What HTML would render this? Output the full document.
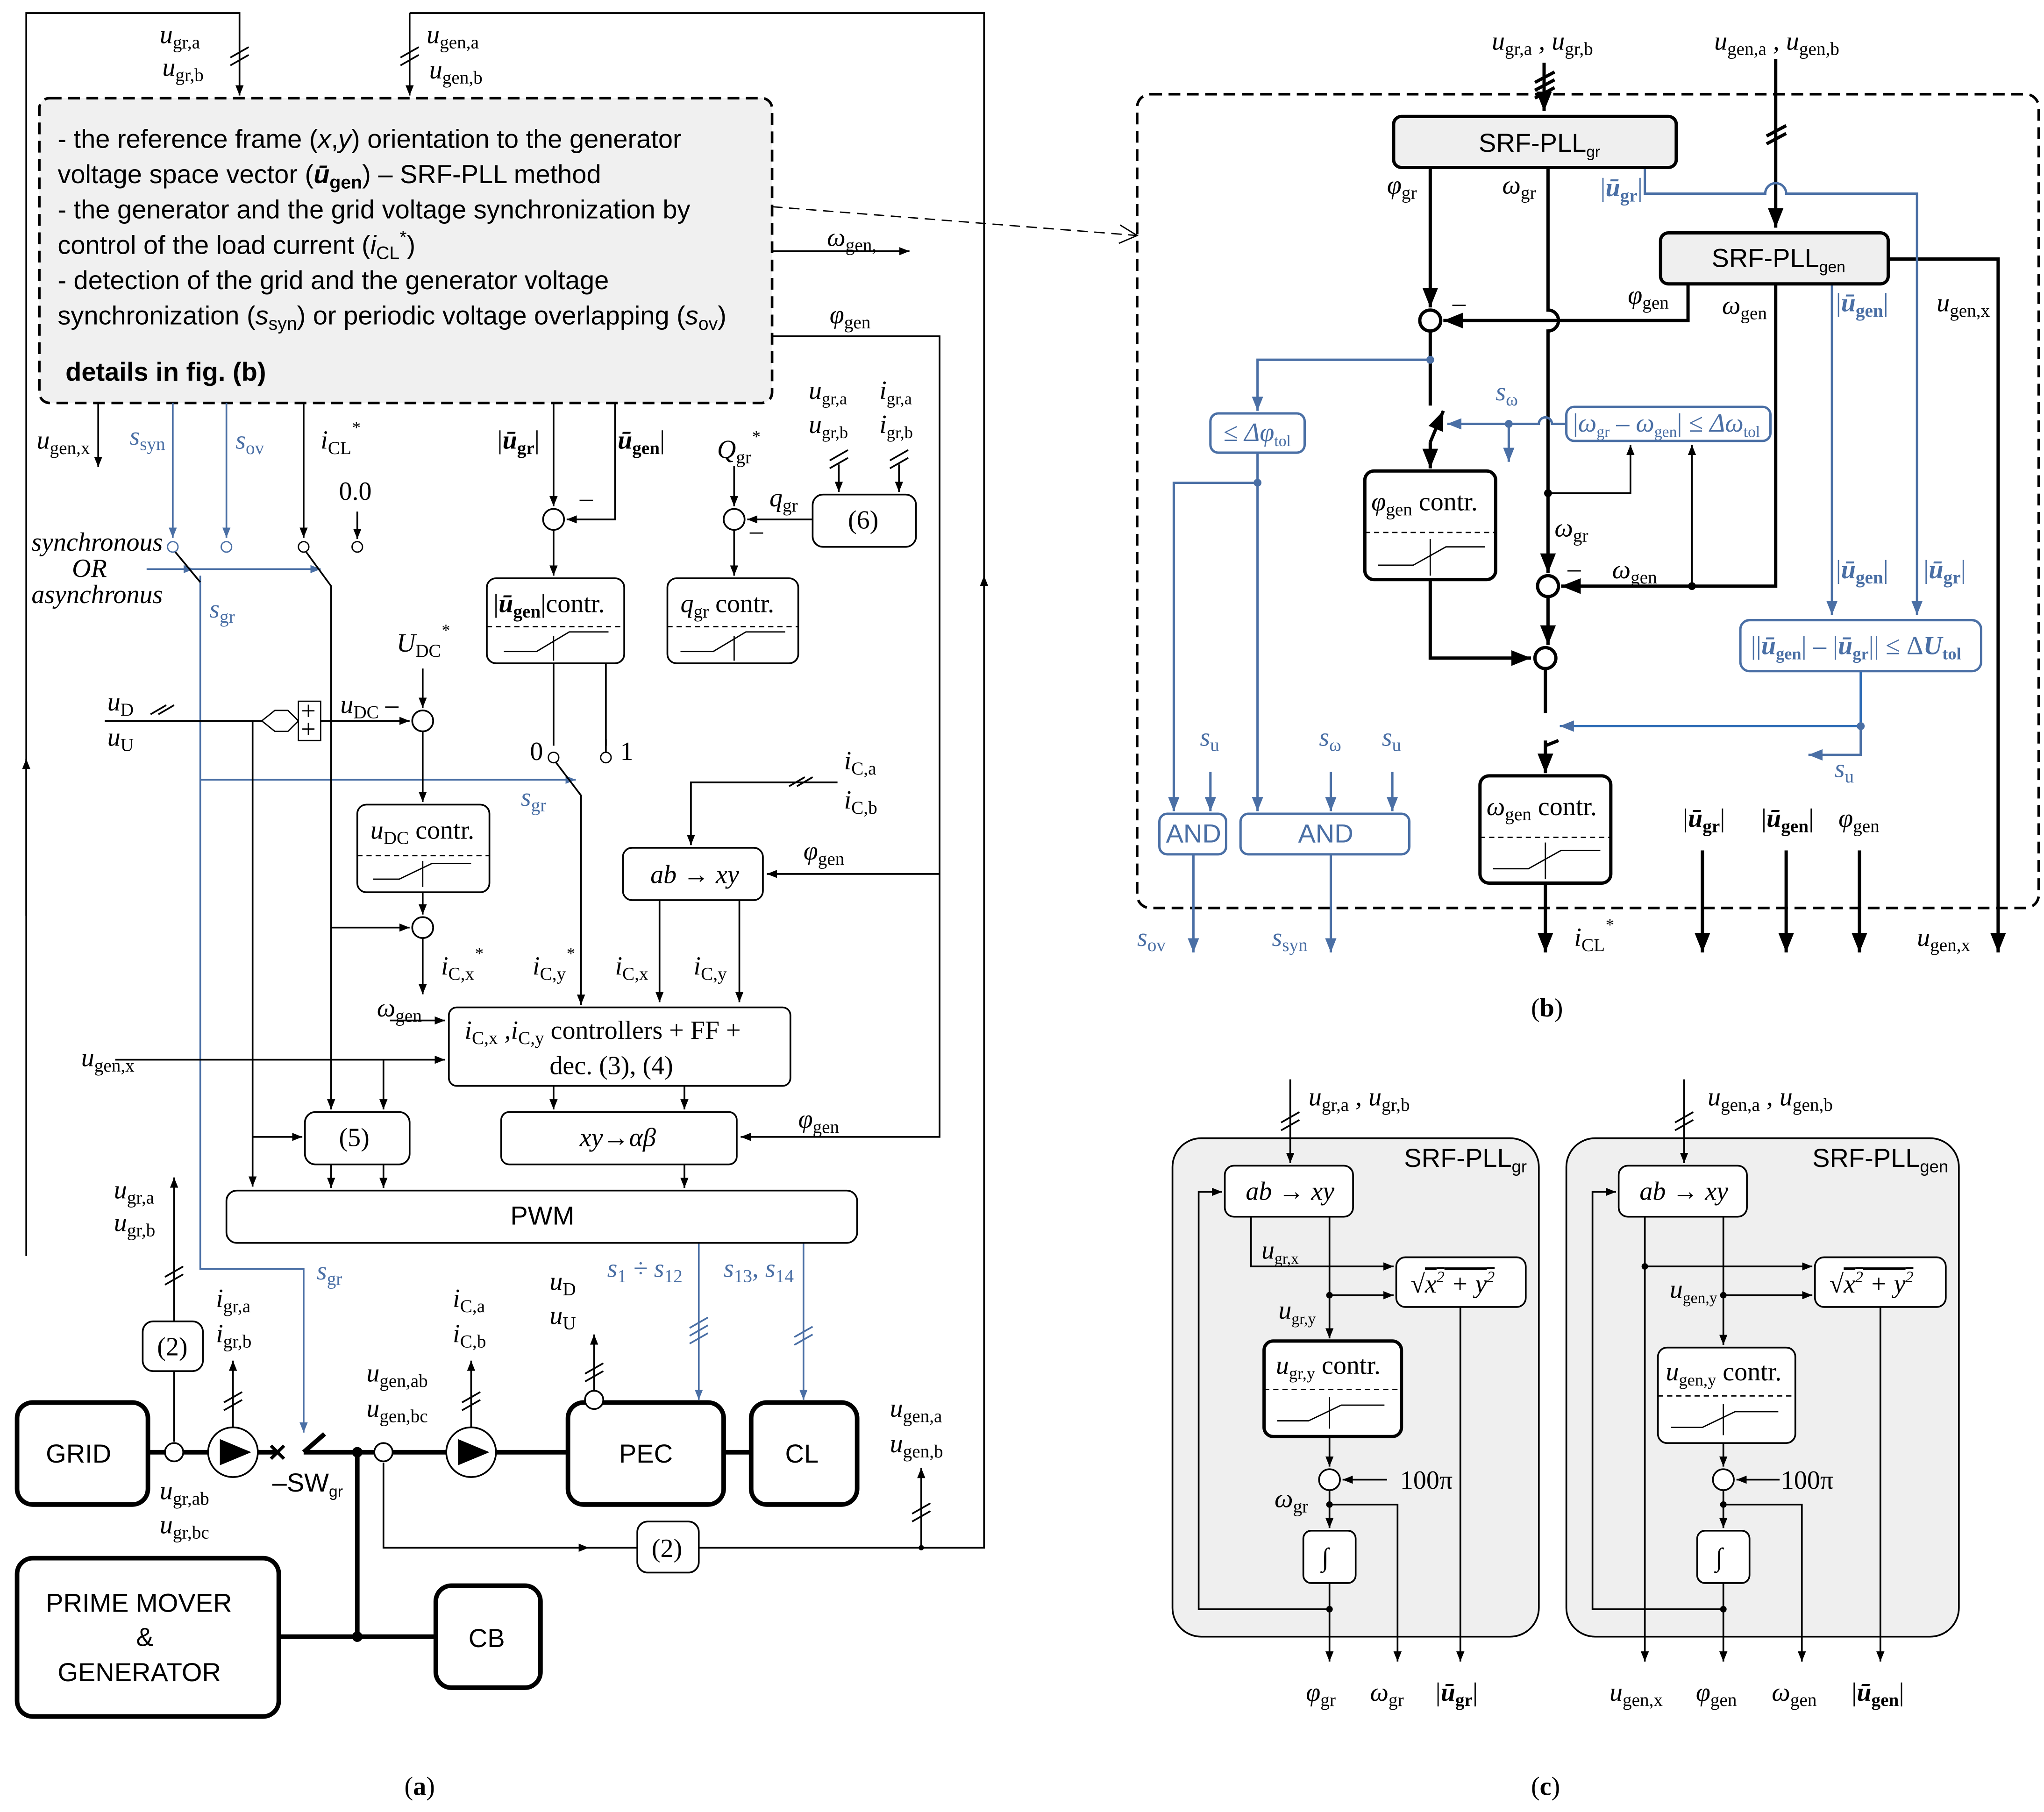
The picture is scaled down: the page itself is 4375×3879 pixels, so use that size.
<!DOCTYPE html>
<html><head><meta charset="utf-8"><style>
html,body{margin:0;padding:0;background:#fff}
svg{display:block}
text{font-family:"Liberation Serif",serif;font-size:20px;fill:#000}
.s{font-family:"Liberation Sans",sans-serif}
.i{font-style:italic}
tspan[dy="4"]{font-style:normal}
</style></head><body>
<svg width="4375" height="3879" viewBox="0 0 1562 1385" xmlns="http://www.w3.org/2000/svg">
<defs>
<marker id="a" viewBox="0 0 10 10" refX="10" refY="5" markerWidth="6" markerHeight="6" orient="auto"><path d="M0,1L10,5L0,9z" fill="#000"/></marker>
<marker id="ab" viewBox="0 0 10 10" refX="10" refY="5" markerWidth="6" markerHeight="6" orient="auto"><path d="M0,1L10,5L0,9z" fill="#4a6fa5"/></marker>
</defs>
<rect width="1562" height="1385" fill="#fff"/>

<!-- ============ PANEL (a) ============ -->
<g fill="none" stroke="#000" stroke-width="1.3">
<path d="M20,960V10H183V73" marker-end="url(#a)"/>
<path d="M313,10H752V1183H534"/>
<path d="M313,10V73" marker-end="url(#a)"/>
<path d="M20,700V580" marker-end="url(#a)"/>
<path d="M752,520V440" marker-end="url(#a)"/>
<path d="M176,44l14,-8M176,50l14,-8M306,44l14,-8M306,50l14,-8"/>
</g>
<rect x="30" y="75" width="560" height="233" rx="8" fill="#f0f0f0" stroke="#000" stroke-width="2" stroke-dasharray="9,5"/>
<g class="s" font-size="20">
<text x="44" y="113" class="s">- the reference frame (<tspan class="i">x</tspan>,<tspan class="i">y</tspan>) orientation to the generator</text>
<text x="44" y="140" class="s">voltage space vector (<tspan font-weight="bold" class="i">ū</tspan><tspan font-weight="bold" font-size="14" dy="4">gen</tspan><tspan dy="-4">) – SRF-PLL method</tspan></text>
<text x="44" y="167" class="s">- the generator and the grid voltage synchronization by</text>
<text x="44" y="194" class="s">control of the load current (<tspan class="i">i</tspan><tspan font-size="14" dy="4">CL</tspan><tspan font-size="14" dy="-12">*</tspan><tspan dy="8">)</tspan></text>
<text x="44" y="221" class="s">- detection of the grid and the generator voltage</text>
<text x="44" y="248" class="s">synchronization (<tspan class="i">s</tspan><tspan font-size="14" dy="4">syn</tspan><tspan dy="-4">) or periodic voltage overlapping (</tspan><tspan class="i">s</tspan><tspan font-size="14" dy="4">ov</tspan><tspan dy="-4">)</tspan></text>
<text x="50" y="291" class="s" font-weight="bold">details in fig. (b)</text>
</g>
<text x="122" y="33" class="i">u<tspan font-size="14" dy="4">gr,a</tspan></text>
<text x="124" y="58" class="i">u<tspan font-size="14" dy="4">gr,b</tspan></text>
<text x="326" y="33" class="i">u<tspan font-size="14" dy="4">gen,a</tspan></text>
<text x="328" y="60" class="i">u<tspan font-size="14" dy="4">gen,b</tspan></text>
<path d="M590,158L869,180" stroke="#000" stroke-dasharray="8,5" fill="none"/>
<path d="M856,172l13,8l-14,6" stroke="#000" fill="none"/>
<g fill="none" stroke="#000" stroke-width="1.3">
<path d="M590,192H695" marker-end="url(#a)"/>
<path d="M590,257H718V869H566" marker-end="url(#a)"/>
<path d="M718,668H586" marker-end="url(#a)"/>
<path d="M75,308V357" marker-end="url(#a)"/>
<path d="M232,308V411" marker-end="url(#a)"/>
<path d="M273,391V412" marker-end="url(#a)"/>
<path d="M423,308V387" marker-end="url(#a)"/>
<path d="M470,308V397H433" marker-end="url(#a)"/>
<path d="M423,405V440" marker-end="url(#a)"/>
<path d="M561,356V387" marker-end="url(#a)"/>
<path d="M621,397H571" marker-end="url(#a)"/>
<path d="M561,405V440" marker-end="url(#a)"/>
<path d="M641,355V376" marker-end="url(#a)"/>
<path d="M687,355V376" marker-end="url(#a)"/>
<path d="M634,352l14,-8M634,358l14,-8M680,352l14,-8M680,358l14,-8"/>
</g>
<g fill="none" stroke="#4a6fa5" stroke-width="1.3">
<path d="M132,308V411" marker-end="url(#ab)"/>
<path d="M173,308V411" marker-end="url(#ab)"/>
<path d="M112,435H245" marker-end="url(#ab)"/>
<path d="M140,435H148" marker-end="url(#ab)"/>
<path d="M153,440V970H232V1095" marker-end="url(#ab)"/>
<path d="M153,596H440" marker-end="url(#ab)"/>
<path d="M534,950V1070" marker-end="url(#ab)"/>
<path d="M614,950V1070" marker-end="url(#ab)"/>
<path d="M527,1015l14,-8M527,1021l14,-8M527,1027l14,-8M607,1022l14,-8M607,1028l14,-8"/>
</g>
<g fill="#fff" stroke="#4a6fa5"><circle cx="132" cy="418" r="4"/><circle cx="173" cy="418" r="4"/></g>
<g fill="#fff" stroke="#000"><circle cx="232" cy="418" r="4"/><circle cx="273" cy="418" r="4"/><circle cx="423" cy="579" r="4"/><circle cx="463" cy="579" r="4"/></g>
<path d="M134,422L153,445M234,422L253,448V845M425,583L444,608V768M463,565V575" stroke="#000" fill="none" stroke-width="1.3"/>
<path d="M253,448V848" stroke="#000" fill="none" stroke-width="1.3" marker-end="url(#a)"/>
<path d="M444,608V768" stroke="#000" fill="none" stroke-width="1.3" marker-end="url(#a)"/>
<text x="99" y="340" class="i" style="fill:#4a6fa5">s<tspan font-size="14" dy="4">syn</tspan></text>
<text x="180" y="343" class="i" style="fill:#4a6fa5">s<tspan font-size="14" dy="4">ov</tspan></text>
<text x="28" y="343" class="i">u<tspan font-size="14" dy="4">gen,x</tspan></text>
<text x="245" y="343" class="i">i<tspan font-size="14" dy="4">CL</tspan><tspan font-size="13" dy="-16">*</tspan></text>
<text x="259" y="382">0.0</text>
<text x="24" y="421" class="i" font-size="15">synchronous</text>
<text x="55" y="441" class="i" font-size="15">OR</text>
<text x="24" y="461" class="i" font-size="15">asynchronus</text>
<text x="160" y="472" class="i" style="fill:#4a6fa5">s<tspan font-size="14" dy="4">gr</tspan></text>
<text x="398" y="616" class="i" style="fill:#4a6fa5">s<tspan font-size="14" dy="4">gr</tspan></text>
<text x="380" y="343">|<tspan font-weight="bold" class="i">ū</tspan><tspan font-weight="bold" font-size="14" dy="4">gr</tspan><tspan dy="-4">|</tspan></text>
<text x="468" y="343">|<tspan font-weight="bold" class="i">ū</tspan><tspan font-weight="bold" font-size="14" dy="4">gen</tspan><tspan dy="-4">|</tspan></text>
<text x="548" y="350" class="i">Q<tspan font-size="14" dy="4">gr</tspan><tspan font-size="13" dy="-16">*</tspan></text>
<text x="588" y="387" class="i">q<tspan font-size="14" dy="4">gr</tspan></text>
<text x="618" y="305" class="i" font-size="18">u<tspan font-size="13" dy="4">gr,a</tspan></text>
<text x="618" y="331" class="i" font-size="18">u<tspan font-size="13" dy="4">gr,b</tspan></text>
<text x="672" y="305" class="i" font-size="18">i<tspan font-size="13" dy="4">gr,a</tspan></text>
<text x="672" y="331" class="i" font-size="18">i<tspan font-size="13" dy="4">gr,b</tspan></text>
<text x="632" y="188" class="i">ω<tspan font-size="14" dy="4">gen,</tspan></text>
<text x="634" y="247" class="i">φ<tspan font-size="14" dy="4">gen</tspan></text>
<text x="443" y="387">–</text><text x="573" y="412">–</text>
<g fill="#fff" stroke="#000" stroke-width="1.3">
<circle cx="423" cy="397" r="8"/><circle cx="561" cy="397" r="8"/><circle cx="323" cy="551" r="8"/><circle cx="323" cy="709" r="8"/>
<rect x="621" y="378" width="79" height="40" rx="8"/>
<rect x="372" y="442" width="105" height="65" rx="7"/>
<rect x="510" y="442" width="100" height="65" rx="7"/>
<rect x="273" y="615" width="101" height="67" rx="7"/>
<rect x="476" y="648" width="107" height="40" rx="7"/>
<rect x="343" y="770" width="261" height="60" rx="6"/>
<rect x="233" y="850" width="80" height="40" rx="8"/>
<rect x="383" y="850" width="180" height="40" rx="6"/>
<rect x="173" y="910" width="482" height="40" rx="8"/>
</g>
<g stroke="#000" fill="none" stroke-dasharray="4,3"><path d="M372,479H477M510,479H610M273,654H374"/></g>
<g stroke="#000" fill="none"><path d="M385,498H410L435,483H465M423,505V486M520,498H545L570,483H600M561,505V486M285,672H305L330,660H360M323,678V658"/></g>
<text x="377" y="468">|<tspan font-weight="bold" class="i">ū</tspan><tspan font-weight="bold" font-size="14" dy="4">gen</tspan><tspan dy="-4">|contr.</tspan></text>
<text x="520" y="468" class="i">q<tspan font-size="14" dy="4">gr</tspan><tspan dy="-4" font-style="normal"> contr.</tspan></text>
<text x="283" y="641" class="i">u<tspan font-size="14" dy="4">DC</tspan><tspan dy="-4" font-style="normal"> contr.</tspan></text>
<text x="648" y="404">(6)</text>
<text x="497" y="675" class="i">ab → xy</text>
<text x="355" y="794" class="i">i<tspan font-size="14" dy="4">C,x</tspan><tspan dy="-4"> ,i</tspan><tspan font-size="14" dy="4">C,y</tspan><tspan dy="-4" font-style="normal"> controllers + FF +</tspan></text>
<text x="420" y="821">dec. (3), (4)</text>
<text x="259" y="876">(5)</text>
<text x="443" y="876" class="i">xy→αβ</text>
<text x="390" y="936" class="s" font-size="18">PWM</text>
<g fill="none" stroke="#000" stroke-width="1.3">
<path d="M423,507V570M463,507V570"/>
<path d="M323,511V541" marker-end="url(#a)"/>
<path d="M323,559V613" marker-end="url(#a)"/>
<path d="M323,682V699" marker-end="url(#a)"/>
<path d="M323,717V760" marker-end="url(#a)"/>
<path d="M253,709H313" marker-end="url(#a)"/>
<path d="M80,551H200"/>
<path d="M245,551H313" marker-end="url(#a)"/>
<path d="M193,551V907" marker-end="url(#a)"/>
<path d="M193,869H231" marker-end="url(#a)"/>
<path d="M293,810V848" marker-end="url(#a)"/>
<path d="M88,810H340" marker-end="url(#a)"/>
<path d="M640,598H528V646" marker-end="url(#a)"/>
<path d="M603,601l12,-7M609,601l12,-7"/>
<path d="M504,688V766" marker-end="url(#a)"/>
<path d="M565,688V766" marker-end="url(#a)"/>
<path d="M298,780H340" marker-end="url(#a)"/>
<path d="M423,830V848" marker-end="url(#a)"/>
<path d="M523,830V848" marker-end="url(#a)"/>
<path d="M253,890V908" marker-end="url(#a)"/>
<path d="M293,890V908" marker-end="url(#a)"/>
<path d="M523,890V908" marker-end="url(#a)"/>
<path d="M115,546l12,-7M121,546l12,-7"/>
</g>
<path d="M200,551l10,-8h10l8,8l-8,8h-10z" fill="#fff" stroke="#000"/>
<rect x="228" y="536" width="17" height="30" fill="#fff" stroke="#000"/>
<text x="230" y="550" font-size="14">+</text><text x="230" y="564" font-size="14">+</text>
<text x="82" y="543" class="i">u<tspan font-size="14" dy="4">D</tspan></text>
<text x="82" y="570" class="i">u<tspan font-size="14" dy="4">U</tspan></text>
<text x="260" y="545" class="i">u<tspan font-size="14" dy="4">DC</tspan><tspan dy="-4" font-style="normal"> –</tspan></text>
<text x="303" y="498" class="i">U<tspan font-size="14" dy="4">DC</tspan><tspan font-size="13" dy="-16">*</tspan></text>
<text x="405" y="581" font-size="16">0</text><text x="474" y="581" font-size="16">1</text>
<text x="645" y="588" class="i">i<tspan font-size="14" dy="4">C,a</tspan></text>
<text x="645" y="618" class="i">i<tspan font-size="14" dy="4">C,b</tspan></text>
<text x="614" y="657" class="i">φ<tspan font-size="14" dy="4">gen</tspan></text>
<text x="337" y="745" class="i">i<tspan font-size="14" dy="4">C,x</tspan><tspan font-size="13" dy="-16">*</tspan></text>
<text x="407" y="745" class="i">i<tspan font-size="14" dy="4">C,y</tspan><tspan font-size="13" dy="-16">*</tspan></text>
<text x="470" y="745" class="i">i<tspan font-size="14" dy="4">C,x</tspan></text>
<text x="530" y="745" class="i">i<tspan font-size="14" dy="4">C,y</tspan></text>
<text x="288" y="777" class="i">ω<tspan font-size="14" dy="4">gen</tspan></text>
<text x="62" y="815" class="i">u<tspan font-size="14" dy="4">gen,x</tspan></text>
<text x="610" y="862" class="i">φ<tspan font-size="14" dy="4">gen</tspan></text>
<text x="87" y="916" class="i">u<tspan font-size="14" dy="4">gr,a</tspan></text>
<text x="87" y="941" class="i">u<tspan font-size="14" dy="4">gr,b</tspan></text>
<text x="242" y="978" class="i" style="fill:#4a6fa5">s<tspan font-size="14" dy="4">gr</tspan></text>
<text x="464" y="976" class="i" style="fill:#4a6fa5">s<tspan font-size="14" dy="4">1</tspan><tspan dy="-4"> ÷ s</tspan><tspan font-size="14" dy="4">12</tspan></text>
<text x="553" y="976" class="i" style="fill:#4a6fa5">s<tspan font-size="14" dy="4">13</tspan><tspan dy="-4">, s</tspan><tspan font-size="14" dy="4">14</tspan></text>
<text x="420" y="986" class="i">u<tspan font-size="14" dy="4">D</tspan></text>
<text x="420" y="1012" class="i">u<tspan font-size="14" dy="4">U</tspan></text>
<text x="165" y="999" class="i">i<tspan font-size="14" dy="4">gr,a</tspan></text>
<text x="165" y="1026" class="i">i<tspan font-size="14" dy="4">gr,b</tspan></text>
<text x="346" y="999" class="i">i<tspan font-size="14" dy="4">C,a</tspan></text>
<text x="346" y="1026" class="i">i<tspan font-size="14" dy="4">C,b</tspan></text>
<text x="280" y="1056" class="i">u<tspan font-size="14" dy="4">gen,ab</tspan></text>
<text x="280" y="1083" class="i">u<tspan font-size="14" dy="4">gen,bc</tspan></text>
<text x="680" y="1083" class="i">u<tspan font-size="14" dy="4">gen,a</tspan></text>
<text x="680" y="1110" class="i">u<tspan font-size="14" dy="4">gen,b</tspan></text>
<text x="122" y="1146" class="i">u<tspan font-size="14" dy="4">gr,ab</tspan></text>
<text x="122" y="1172" class="i">u<tspan font-size="14" dy="4">gr,bc</tspan></text>
<text x="208" y="1140" class="s" font-size="16">–SW<tspan font-size="12" dy="4">gr</tspan></text>
<!-- power section -->
<g fill="none" stroke="#000" stroke-width="1.3">
<path d="M133,960V1010M133,1048V1102"/>
<path d="M133,1002V900" marker-end="url(#a)"/>
<path d="M126,976l14,-8M126,982l14,-8"/>
<path d="M178,1091V1040" marker-end="url(#a)"/>
<path d="M360,1091V1040" marker-end="url(#a)"/>
<path d="M454,1063V1020" marker-end="url(#a)"/>
<path d="M171,1072l14,-8M171,1078l14,-8M353,1072l14,-8M353,1078l14,-8M447,1050l14,-8M447,1056l14,-8"/>
<path d="M293,1118V1183H450" marker-end="url(#a)"/>
<path d="M450,1183H487"/>
<path d="M704,1183V1122" marker-end="url(#a)"/>
<path d="M697,1157l14,-8M697,1163l14,-8"/>
</g>
<g fill="none" stroke="#000" stroke-width="3.5">
<path d="M113,1110H212M232,1110H434M553,1110H574M273,1110V1251M213,1251H333"/>
<path d="M232,1110L248,1096"/>
<path d="M207,1105l10,10M217,1105l-10,10" stroke-width="2.5"/>
<rect x="13" y="1072" width="100" height="78" rx="12"/>
<rect x="13" y="1191" width="200" height="121" rx="12"/>
<rect x="333" y="1212" width="80" height="78" rx="12"/>
<rect x="434" y="1072" width="119" height="78" rx="12"/>
<rect x="574" y="1072" width="81" height="78" rx="12"/>
</g>
<g fill="#fff" stroke="#000" stroke-width="1.3">
<circle cx="133" cy="1110" r="7"/><circle cx="293" cy="1110" r="7"/><circle cx="454" cy="1070" r="7"/>
<circle cx="178" cy="1110" r="19"/><circle cx="360" cy="1110" r="19"/>
<rect x="109" y="1010" width="46" height="38" rx="8"/><rect x="487" y="1163" width="47" height="39" rx="8"/>
</g>
<path d="M168,1100L192,1110L168,1120zM350,1100L374,1110L350,1120z" fill="#000"/>
<circle cx="273" cy="1110" r="4"/><circle cx="273" cy="1251" r="4"/><circle cx="704" cy="1183" r="2"/>
<text x="120" y="1036">(2)</text><text x="498" y="1190">(2)</text>
<text x="35" y="1118" class="s" font-size="21">GRID</text>
<text x="35" y="1232" class="s" font-size="21">PRIME MOVER</text>
<text x="104" y="1258" class="s" font-size="21">&amp;</text>
<text x="44" y="1285" class="s" font-size="21">GENERATOR</text>
<text x="358" y="1259" class="s" font-size="21">CB</text>
<text x="473" y="1118" class="s" font-size="21">PEC</text>
<text x="600" y="1118" class="s" font-size="21">CL</text>
<text x="309" y="1372" font-size="26">(<tspan font-weight="bold">a</tspan>)</text>

<!-- ============ PANEL (b) ============ -->
<rect x="869" y="72" width="689" height="622" rx="10" fill="none" stroke="#000" stroke-width="2" stroke-dasharray="9,5"/>
<text x="1140" y="38" class="i">u<tspan font-size="14" dy="4">gr,a</tspan><tspan dy="-4"> , u</tspan><tspan font-size="14" dy="4">gr,b</tspan></text>
<text x="1310" y="38" class="i">u<tspan font-size="14" dy="4">gen,a</tspan><tspan dy="-4"> , u</tspan><tspan font-size="14" dy="4">gen,b</tspan></text>
<g fill="none" stroke="#000" stroke-width="2.5">
<path d="M1180,48V85" marker-end="url(#a)"/>
<path d="M1357,45V174" marker-end="url(#a)"/>
<path d="M1173,63l15,-8M1173,69l15,-8M1173,75l15,-8M1350,104l15,-8M1350,110l15,-8"/>
<path d="M1093,128V235" marker-end="url(#a)"/>
<path d="M1183,128V237a8,8 0 0,1 0,16V438" marker-end="url(#a)"/>
<path d="M1290,217V245H1103" marker-end="url(#a)"/>
<path d="M1357,217V448H1193" marker-end="url(#a)"/>
<path d="M1443,198H1527V728" marker-end="url(#a)"/>
<path d="M1093,253V310"/>
<path d="M1093,338L1103,314" marker-end="url(#a)"/>
<path d="M1093,338V358" marker-end="url(#a)"/>
<path d="M1093,443V503H1170" marker-end="url(#a)"/>
<path d="M1183,456V493" marker-end="url(#a)"/>
<path d="M1181,511V545"/>
<path d="M1181,570L1191,566" />
<path d="M1181,566V591" marker-end="url(#a)"/>
<path d="M1181,675V728" marker-end="url(#a)"/>
<path d="M1301,650V728" marker-end="url(#a)"/>
<path d="M1365,650V728" marker-end="url(#a)"/>
<path d="M1421,650V728" marker-end="url(#a)"/>
</g>
<g fill="none" stroke="#000" stroke-width="1.3">
<path d="M1183,377H1246V340" marker-end="url(#a)"/>
<path d="M1293,448V340" marker-end="url(#a)"/>
</g>
<circle cx="1183" cy="377" r="3"/><circle cx="1293" cy="448" r="3"/>
<g fill="none" stroke="#4a6fa5" stroke-width="1.8">
<path d="M1257,128V148H1349a8,8 0 0,1 16,0H1465V470" marker-end="url(#ab)"/>
<path d="M1400,217V470" marker-end="url(#ab)"/>
<path d="M1093,275H961V314" marker-end="url(#ab)"/>
<path d="M1197,324H1186a5,5 0 0,0 -10,0H1106" marker-end="url(#ab)"/>
<path d="M1153,324V353" marker-end="url(#ab)"/>
<path d="M1422,513V555H1192" marker-end="url(#ab)" stroke="#2d6bb5"/>
<path d="M1422,555V577H1382" marker-end="url(#ab)"/>
<path d="M961,346V620" marker-end="url(#ab)"/>
<path d="M961,369H897V620" marker-end="url(#ab)"/>
<path d="M925,590V620" marker-end="url(#ab)"/>
<path d="M1017,590V620" marker-end="url(#ab)"/>
<path d="M1064,590V620" marker-end="url(#ab)"/>
<path d="M912,653V728" marker-end="url(#ab)"/>
<path d="M1017,653V728" marker-end="url(#ab)"/>
</g>
<g fill="#4a6fa5"><circle cx="1093" cy="275" r="3"/><circle cx="961" cy="369" r="3"/><circle cx="1153" cy="324" r="3"/><circle cx="1422" cy="555" r="3"/></g>
<g fill="#fff" stroke="#4a6fa5" stroke-width="1.8">
<rect x="925" y="316" width="72" height="30" rx="6"/>
<rect x="1197" y="311" width="156" height="26" rx="6"/>
<rect x="1330" y="474" width="184" height="39" rx="7"/>
<rect x="886" y="622" width="51" height="31" rx="6"/>
<rect x="948" y="622" width="129" height="31" rx="6"/>
</g>
<g fill="#efefef" stroke="#000" stroke-width="2.5">
<rect x="1065" y="89" width="216" height="39" rx="6"/>
<rect x="1269" y="178" width="174" height="39" rx="6"/>
</g>
<g fill="#fff" stroke="#000" stroke-width="2.5">
<circle cx="1093" cy="245" r="8"/><circle cx="1183" cy="448" r="8"/><circle cx="1181" cy="503" r="8"/>
<rect x="1043" y="360" width="100" height="83" rx="7"/>
<rect x="1131" y="593" width="100" height="82" rx="7"/>
</g>
<g stroke="#000" fill="none"><path d="M1043,407H1143M1131,640H1231" stroke-dasharray="4,3"/>
<path d="M1053,432H1080L1105,418H1135M1093,440V412M1141,664H1168L1193,650H1223M1181,672V644"/></g>
<text x="1130" y="116" class="s" font-size="18">SRF-PLL<tspan font-size="12" dy="4">gr</tspan></text>
<text x="1308" y="204" class="s" font-size="18">SRF-PLL<tspan font-size="12" dy="4">gen</tspan></text>
<text x="1048" y="390" class="i">φ<tspan font-size="14" dy="4">gen</tspan><tspan dy="-4" font-style="normal"> contr.</tspan></text>
<text x="1136" y="623" class="i">ω<tspan font-size="14" dy="4">gen</tspan><tspan dy="-4" font-style="normal"> contr.</tspan></text>
<text x="1060" y="148" class="i">φ<tspan font-size="14" dy="4">gr</tspan></text>
<text x="1148" y="148" class="i">ω<tspan font-size="14" dy="4">gr</tspan></text>
<text x="1223" y="150" style="fill:#4a6fa5">|<tspan font-weight="bold" class="i">ū</tspan><tspan font-weight="bold" font-size="14" dy="4">gr</tspan><tspan dy="-4">|</tspan></text>
<text x="1244" y="232" class="i">φ<tspan font-size="14" dy="4">gen</tspan></text>
<text x="1316" y="240" class="i">ω<tspan font-size="14" dy="4">gen</tspan></text>
<text x="1403" y="238" style="fill:#4a6fa5">|<tspan font-weight="bold" class="i">ū</tspan><tspan font-weight="bold" font-size="14" dy="4">gen</tspan><tspan dy="-4">|</tspan></text>
<text x="1480" y="238" class="i">u<tspan font-size="14" dy="4">gen,x</tspan></text>
<text x="1110" y="238">–</text><text x="1198" y="441">–</text>
<text x="1143" y="306" class="i" style="fill:#4a6fa5">s<tspan font-size="14" dy="4">ω</tspan></text>
<text x="935" y="337" style="fill:#4a6fa5" font-size="17">≤ <tspan class="i">Δφ</tspan><tspan font-size="12" dy="4">tol</tspan></text>
<text x="1202" y="330" style="fill:#4a6fa5" font-size="17">|<tspan class="i">ω</tspan><tspan font-size="12" dy="4">gr</tspan><tspan dy="-4"> – </tspan><tspan class="i">ω</tspan><tspan font-size="12" dy="4">gen</tspan><tspan dy="-4">| ≤ </tspan><tspan class="i">Δω</tspan><tspan font-size="12" dy="4">tol</tspan></text>
<text x="1188" y="410" class="i">ω<tspan font-size="14" dy="4">gr</tspan></text>
<text x="1232" y="442" class="i">ω<tspan font-size="14" dy="4">gen</tspan></text>
<text x="1403" y="442" style="fill:#4a6fa5">|<tspan font-weight="bold" class="i">ū</tspan><tspan font-weight="bold" font-size="14" dy="4">gen</tspan><tspan dy="-4">|</tspan></text>
<text x="1470" y="442" style="fill:#4a6fa5">|<tspan font-weight="bold" class="i">ū</tspan><tspan font-weight="bold" font-size="14" dy="4">gr</tspan><tspan dy="-4">|</tspan></text>
<text x="1338" y="500" style="fill:#4a6fa5" font-size="18">||<tspan font-weight="bold" class="i">ū</tspan><tspan font-weight="bold" font-size="13" dy="4">gen</tspan><tspan dy="-4">| – |</tspan><tspan font-weight="bold" class="i">ū</tspan><tspan font-weight="bold" font-size="13" dy="4">gr</tspan><tspan dy="-4">|| ≤ Δ</tspan><tspan class="i" font-weight="bold">U</tspan><tspan font-weight="bold" font-size="13" dy="4">tol</tspan></text>
<text x="1402" y="594" class="i" style="fill:#4a6fa5">s<tspan font-size="14" dy="4">u</tspan></text>
<text x="917" y="570" class="i" style="fill:#4a6fa5">s<tspan font-size="14" dy="4">u</tspan></text>
<text x="1008" y="570" class="i" style="fill:#4a6fa5">s<tspan font-size="14" dy="4">ω</tspan></text>
<text x="1056" y="570" class="i" style="fill:#4a6fa5">s<tspan font-size="14" dy="4">u</tspan></text>
<text x="891" y="644" class="s" font-size="18" style="fill:#4a6fa5">AND</text>
<text x="992" y="644" class="s" font-size="18" style="fill:#4a6fa5">AND</text>
<text x="1286" y="632">|<tspan font-weight="bold" class="i">ū</tspan><tspan font-weight="bold" font-size="14" dy="4">gr</tspan><tspan dy="-4">|</tspan></text>
<text x="1346" y="632">|<tspan font-weight="bold" class="i">ū</tspan><tspan font-weight="bold" font-size="14" dy="4">gen</tspan><tspan dy="-4">|</tspan></text>
<text x="1405" y="632" class="i">φ<tspan font-size="14" dy="4">gen</tspan></text>
<text x="869" y="723" class="i" style="fill:#4a6fa5">s<tspan font-size="14" dy="4">ov</tspan></text>
<text x="972" y="723" class="i" style="fill:#4a6fa5">s<tspan font-size="14" dy="4">syn</tspan></text>
<text x="1203" y="723" class="i">i<tspan font-size="14" dy="4">CL</tspan><tspan font-size="13" dy="-16">*</tspan></text>
<text x="1465" y="723" class="i">u<tspan font-size="14" dy="4">gen,x</tspan></text>
<text x="1170" y="777" font-size="26">(<tspan font-weight="bold">b</tspan>)</text>

<!-- ============ PANEL (c) ============ -->
<rect x="896" y="870" width="280" height="381" rx="22" fill="#efefef" stroke="#000" stroke-width="1.3"/>
<g fill="none" stroke="#000" stroke-width="1.3">
<path d="M986,825V889" marker-end="url(#a)"/>
<path d="M979,858l14,-8M979,864l14,-8"/>
<path d="M956,930V968H1065" marker-end="url(#a)"/>
<path d="M1016,930V1023" marker-end="url(#a)"/>
<path d="M1016,990H1065" marker-end="url(#a)"/>
<path d="M1016,1098V1121" marker-end="url(#a)"/>
<path d="M1060,1131H1026" marker-end="url(#a)"/>
<path d="M1016,1139V1168" marker-end="url(#a)"/>
<path d="M1016,1210V1270" marker-end="url(#a)"/>
<path d="M1016,1230H916V911H934" marker-end="url(#a)"/>
<path d="M1016,1150H1068V1270" marker-end="url(#a)"/>
<path d="M1116,999V1270" marker-end="url(#a)"/>
</g>
<circle cx="1016" cy="990" r="2.5"/><circle cx="1016" cy="1230" r="2.5"/><circle cx="1016" cy="1150" r="2.5"/>
<g fill="#fff" stroke="#000" stroke-width="1.3">
<rect x="936" y="891" width="98" height="39" rx="7"/>
<rect x="1067" y="961" width="99" height="38" rx="7"/>
<circle cx="1016" cy="1131" r="8"/>
<rect x="996" y="1170" width="40" height="40" rx="6"/>
</g>
<text x="952" y="917" class="i">ab → xy</text>
<text x="1078" y="988" class="i">√<tspan text-decoration="overline">x<tspan font-size="12" dy="-8">2</tspan><tspan dy="8"> + y</tspan><tspan font-size="12" dy="-8">2</tspan></tspan></text>
<text x="1070" y="1138" font-size="16">100π</text>
<text x="1010" y="1197">∫</text>
<rect x="966" y="1025" width="105" height="73" rx="7" fill="#fff" stroke="#000" stroke-width="2.5"/>
<path d="M966,1062H1071" stroke="#000" stroke-dasharray="4,3"/>
<path d="M976,1086H1000L1025,1074H1058M1016,1092V1068" stroke="#000" fill="none"/>
<text x="975" y="1050" class="i" font-size="18">u<tspan font-size="13" dy="4">gr,y</tspan><tspan dy="-4" font-style="normal"> contr.</tspan></text>
<text x="1073" y="892" class="s" font-size="19">SRF-PLL<tspan font-size="13" dy="4">gr</tspan></text>
<text x="1000" y="845" class="i">u<tspan font-size="14" dy="4">gr,a</tspan><tspan dy="-4"> , u</tspan><tspan font-size="14" dy="4">gr,b</tspan></text>
<text x="964" y="962" class="i" font-size="16">u<tspan font-size="12" dy="4">gr,x</tspan></text>
<text x="977" y="1008" class="i" font-size="16">u<tspan font-size="12" dy="4">gr,y</tspan></text>
<text x="974" y="1152" class="i">ω<tspan font-size="14" dy="4">gr</tspan></text>
<text x="998" y="1300" class="i">φ<tspan font-size="14" dy="4">gr</tspan></text>
<text x="1047" y="1300" class="i">ω<tspan font-size="14" dy="4">gr</tspan></text>
<text x="1097" y="1300">|<tspan font-weight="bold" class="i">ū</tspan><tspan font-weight="bold" font-size="14" dy="4">gr</tspan><tspan dy="-4">|</tspan></text>

<rect x="1197" y="870" width="300" height="381" rx="22" fill="#efefef" stroke="#000" stroke-width="1.3"/>
<g fill="none" stroke="#000" stroke-width="1.3">
<path d="M1287,825V889" marker-end="url(#a)"/>
<path d="M1280,858l14,-8M1280,864l14,-8"/>
<path d="M1257,930V1270" marker-end="url(#a)"/>
<path d="M1317,930V1028" marker-end="url(#a)"/>
<path d="M1257,968H1385" marker-end="url(#a)"/>
<path d="M1317,990H1385" marker-end="url(#a)"/>
<path d="M1317,1103V1121" marker-end="url(#a)"/>
<path d="M1360,1131H1327" marker-end="url(#a)"/>
<path d="M1317,1139V1168" marker-end="url(#a)"/>
<path d="M1317,1210V1270" marker-end="url(#a)"/>
<path d="M1317,1230H1217V911H1235" marker-end="url(#a)"/>
<path d="M1317,1150H1377V1270" marker-end="url(#a)"/>
<path d="M1437,999V1270" marker-end="url(#a)"/>
</g>
<circle cx="1317" cy="990" r="2.5"/><circle cx="1317" cy="1230" r="2.5"/><circle cx="1317" cy="1150" r="2.5"/><circle cx="1257" cy="968" r="2.5"/>
<g fill="#fff" stroke="#000" stroke-width="1.3">
<rect x="1237" y="891" width="98" height="39" rx="7"/>
<rect x="1387" y="961" width="100" height="38" rx="7"/>
<circle cx="1317" cy="1131" r="8"/>
<rect x="1297" y="1170" width="40" height="40" rx="6"/>
<rect x="1267" y="1030" width="105" height="73" rx="7"/>
</g>
<path d="M1267,1067H1372" stroke="#000" stroke-dasharray="4,3"/>
<path d="M1277,1091H1301L1326,1079H1359M1317,1097V1073" stroke="#000" fill="none"/>
<text x="1253" y="917" class="i">ab → xy</text>
<text x="1398" y="988" class="i">√<tspan text-decoration="overline">x<tspan font-size="12" dy="-8">2</tspan><tspan dy="8"> + y</tspan><tspan font-size="12" dy="-8">2</tspan></tspan></text>
<text x="1361" y="1138" font-size="16">100π</text>
<text x="1311" y="1197">∫</text>
<text x="1273" y="1055" class="i" font-size="18">u<tspan font-size="13" dy="4">gen,y</tspan><tspan dy="-4" font-style="normal"> contr.</tspan></text>
<text x="1385" y="892" class="s" font-size="19">SRF-PLL<tspan font-size="13" dy="4">gen</tspan></text>
<text x="1305" y="845" class="i">u<tspan font-size="14" dy="4">gen,a</tspan><tspan dy="-4"> , u</tspan><tspan font-size="14" dy="4">gen,b</tspan></text>
<text x="1276" y="992" class="i" font-size="16">u<tspan font-size="12" dy="4">gen,y</tspan></text>
<text x="1230" y="1300" class="i">u<tspan font-size="14" dy="4">gen,x</tspan></text>
<text x="1296" y="1300" class="i">φ<tspan font-size="14" dy="4">gen</tspan></text>
<text x="1354" y="1300" class="i">ω<tspan font-size="14" dy="4">gen</tspan></text>
<text x="1415" y="1300">|<tspan font-weight="bold" class="i">ū</tspan><tspan font-weight="bold" font-size="14" dy="4">gen</tspan><tspan dy="-4">|</tspan></text>
<text x="1170" y="1372" font-size="26">(<tspan font-weight="bold">c</tspan>)</text>
</svg>
</body></html>
